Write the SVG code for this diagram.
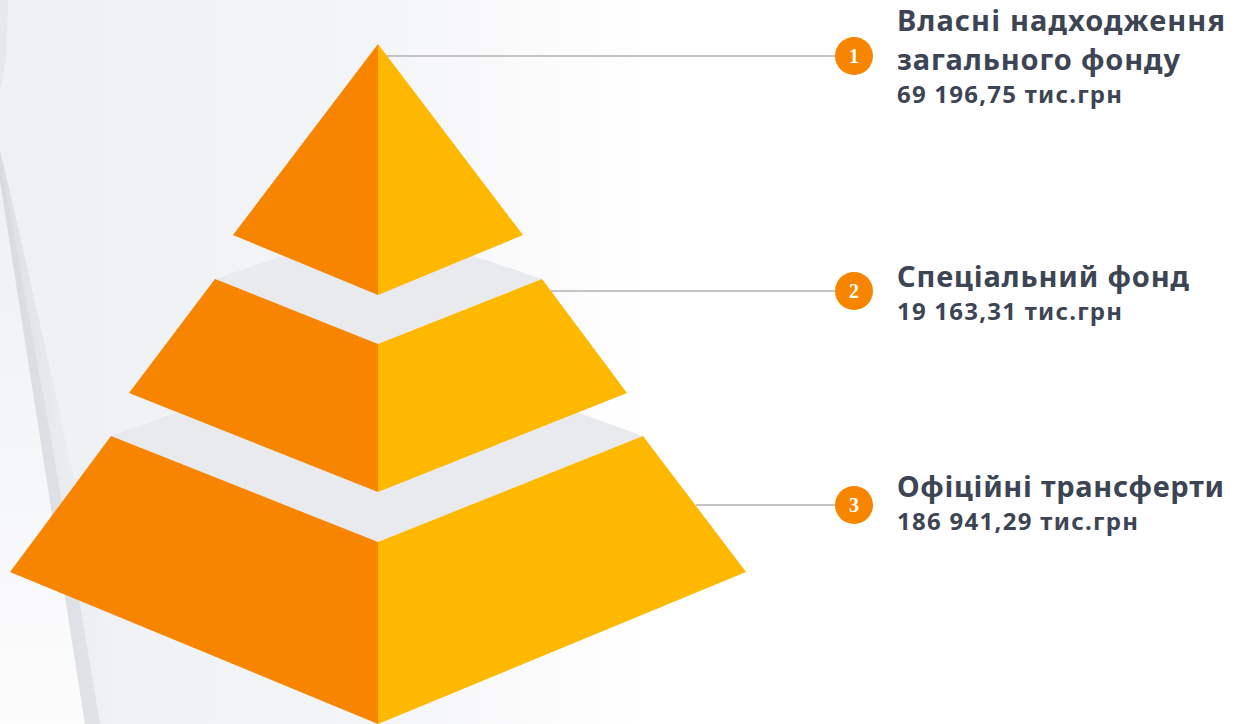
<svg xmlns="http://www.w3.org/2000/svg" width="1239" height="724" viewBox="0 0 1239 724">
  <defs>
    <linearGradient id="bgGrad" x1="0" y1="0" x2="1" y2="0">
      <stop offset="0" stop-color="#EEF0F3"/>
      <stop offset="0.6" stop-color="#F4F5F7"/>
      <stop offset="1" stop-color="#FFFFFF"/>
    </linearGradient>
    <linearGradient id="leftGrad" x1="0" y1="0" x2="0" y2="1">
      <stop offset="0" stop-color="#EEF0F3"/>
      <stop offset="1" stop-color="#FCFCFD"/>
    </linearGradient>
    <linearGradient id="shadowGrad" x1="0" y1="0" x2="1" y2="0">
      <stop offset="0" stop-color="#C9CCD3" stop-opacity="0.9"/>
      <stop offset="1" stop-color="#EEF0F3" stop-opacity="0"/>
    </linearGradient>
    <style>
      .left { fill: #F78500; }
      .right { fill: #FFB800; }
      .top { fill: #E9EAEE; }
      .conn { stroke: #C4C4C4; stroke-width: 2; fill: none; }
      .badge { fill: #F78500; }
      .badgeText { font-family: "Liberation Serif", "DejaVu Serif", serif; font-weight: bold; font-size: 20px; fill: #FFFFFF; text-anchor: middle; }
      .title { font-family: "Noto Sans", "Open Sans", "Liberation Sans", sans-serif; font-weight: bold; font-size: 29px; fill: #3D4554; }
      .value { font-family: "Noto Sans", "Open Sans", "Liberation Sans", sans-serif; font-weight: bold; font-size: 24px; fill: #3D4554; }
    </style>
  </defs>

  <g id="background">
    <rect x="0" y="0" width="1239" height="724" fill="#FFFFFF"/>
    <rect x="0" y="0" width="640" height="724" fill="url(#bgGrad)"/>
    <path d="M0,180 Q45,470 85,724 L0,724 Z" fill="url(#leftGrad)"/>
    <path d="M0,180 Q45,470 85,724 L125,724 Q75,470 0,150 Z" fill="url(#shadowGrad)" opacity="0.6"/>
    <path d="M0,180 Q45,470 85,724 L100,724 Q58,470 0,160 Z" fill="#D6D8DE" opacity="0.6"/>
    <path d="M0,0 L8,0 L6,60 L0,90 Z" fill="#DDDFE4" opacity="0.5"/>
  </g>

  <g id="connectors">
    <line class="conn" x1="386" y1="56" x2="836" y2="56"/>
    <line class="conn" x1="551" y1="291" x2="836" y2="291"/>
    <line class="conn" x1="696" y1="505" x2="836" y2="505"/>
  </g>

  <g id="tier3">
    <polygon class="top" points="111,436 378,341 643,436 378,542"/>
    <polygon class="left" points="111,436 378,542 378,724 10,572"/>
    <polygon class="right" points="378,542 643,436 746,572 378,724"/>
  </g>

  <g id="tier2">
    <polygon class="top" points="215,279 378,224 542,279 378,344"/>
    <polygon class="left" points="215,279 378,344 378,492 129,393"/>
    <polygon class="right" points="378,344 542,279 627,393 378,492"/>
  </g>

  <g id="tier1">
    <polygon class="left" points="378,44 378,295 233,235"/>
    <polygon class="right" points="378,44 523,235 378,295"/>
  </g>

  <g id="label1">
    <circle class="badge" cx="854" cy="56" r="19"/>
    <text class="badgeText" x="854" y="63">1</text>
    <text class="title" x="897" y="31" textLength="328">Власні надходження</text>
    <text class="title" x="897" y="70" textLength="283">загального фонду</text>
    <text class="value" x="897" y="103" textLength="225">69 196,75 тис.грн</text>
  </g>

  <g id="label2">
    <circle class="badge" cx="854" cy="291" r="19"/>
    <text class="badgeText" x="854" y="298">2</text>
    <text class="title" x="897" y="287" textLength="292">Спеціальний фонд</text>
    <text class="value" x="897" y="320" textLength="225">19 163,31 тис.грн</text>
  </g>

  <g id="label3">
    <circle class="badge" cx="854" cy="505" r="19"/>
    <text class="badgeText" x="854" y="512">3</text>
    <text class="title" x="897" y="497" textLength="327">Офіційні трансферти</text>
    <text class="value" x="897" y="530" textLength="241">186 941,29 тис.грн</text>
  </g>
</svg>
